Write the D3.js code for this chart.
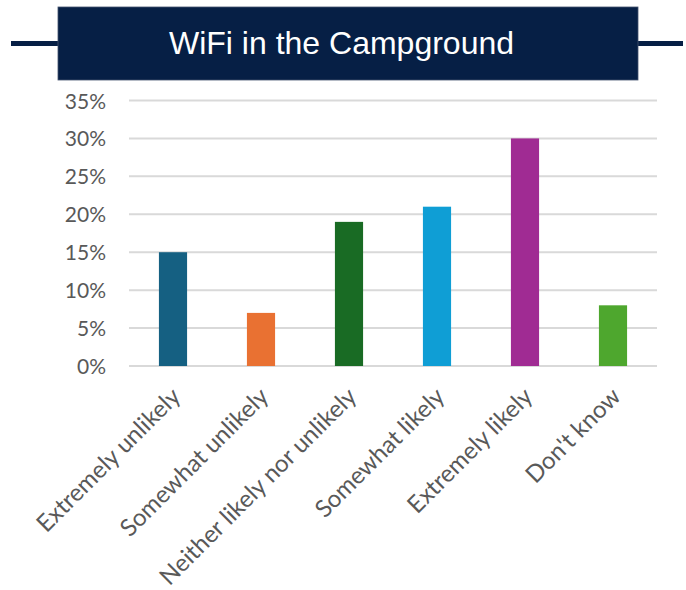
<!DOCTYPE html>
<html>
<head>
<meta charset="utf-8">
<script src="https://cdn.jsdelivr.net/npm/d3@7"></script>
<style>
  body { margin: 0; background: #fff; }
  text { font-family: Lato, "Open Sans", sans-serif; }
</style>
</head>
<body>
<div id="chart"></div>
<script>
// chart values
const categories = ["Extremely unlikely", "Somewhat unlikely", "Neither likely nor unlikely",
                    "Somewhat likely", "Extremely likely", "Don't know"];
const percents = [15, 7, 19, 21, 30, 8];
const barColors = ["#156082", "#E97132", "#196B24", "#0F9ED5", "#A02B93", "#4EA72E"];
const yTicks = [0, 5, 10, 15, 20, 25, 30, 35];
const title = "WiFi in the Campground";

const W = 686, H = 590;
const plot = { left: 129, right: 657, top: 100.5, bottom: 366 };

const svg = d3.select("#chart")
  .append("svg")
  .attr("width", W)
  .attr("height", H);

// title banner with side rules
const navy = "#061F45";
svg.append("line")
  .attr("x1", 11).attr("x2", 683)
  .attr("y1", 43.5).attr("y2", 43.5)
  .attr("stroke", navy).attr("stroke-width", 5);

svg.append("rect")
  .attr("x", 58).attr("y", 7)
  .attr("width", 580).attr("height", 73)
  .attr("fill", navy)
  .attr("stroke", "#44536e").attr("stroke-width", 0.8);

svg.append("text")
  .attr("x", 341.5).attr("y", 54)
  .attr("text-anchor", "middle")
  .attr("fill", "#fff")
  .style("font-family", "'Liberation Sans', Arial, sans-serif")
  .style("font-size", "32px")
  .text(title);

// scales
const x = d3.scaleBand()
  .domain(categories)
  .range([plot.left, plot.right])
  .paddingInner(0.68)
  .paddingOuter(0.34);

const y = d3.scaleLinear()
  .domain([0, 35])
  .range([plot.bottom, plot.top]);

// gridlines
svg.append("g")
  .selectAll("line")
  .data(yTicks)
  .join("line")
  .attr("x1", plot.left).attr("x2", plot.right)
  .attr("y1", d => y(d)).attr("y2", d => y(d))
  .attr("stroke", "#d9d9d9")
  .attr("stroke-width", 2);

// y axis labels
const yAxis = svg.append("g")
  .attr("transform", `translate(${plot.left - 23}, 0)`)
  .call(d3.axisLeft(y).tickValues(yTicks).tickFormat(d => d + "%").tickSize(0).tickPadding(0));
yAxis.select(".domain").remove();
yAxis.selectAll("text")
  .attr("fill", "#595959")
  .attr("dy", "0.36em")
  .style("font-size", "21px")
  .style("font-family", "Lato, sans-serif");

// bars
svg.append("g")
  .selectAll("rect")
  .data(percents)
  .join("rect")
  .attr("x", (d, i) => x(categories[i]))
  .attr("width", x.bandwidth())
  .attr("y", d => y(d))
  .attr("height", d => y(0) - y(d))
  .attr("fill", (d, i) => barColors[i]);

// rotated category labels
svg.append("g")
  .selectAll("text")
  .data(categories)
  .join("text")
  .attr("text-anchor", "end")
  .attr("transform", d => `translate(${x(d) + x.bandwidth() / 2 + 9}, ${plot.bottom + 32}) rotate(-45)`)
  .attr("fill", "#595959")
  .style("font-size", "24px")
  .style("font-family", "Lato, sans-serif")
  .text(d => d);
</script>
</body>
</html>
